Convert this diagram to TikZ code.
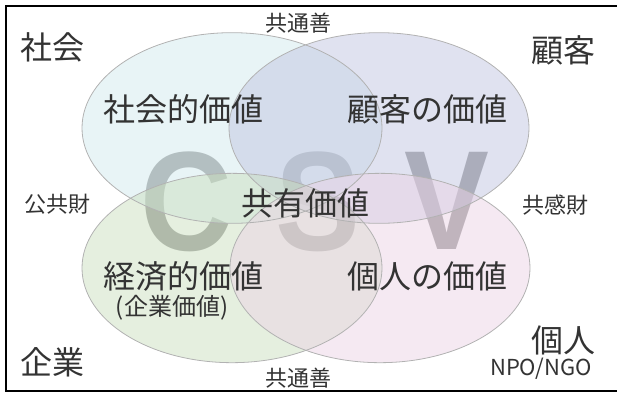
\documentclass[tikz,border=0pt]{standalone}
\usepackage{fontspec}
\setmainfont{Noto Sans CJK JP}
\newfontfamily\csvfont{Liberation Sans}[FakeStretch=0.9]
\definecolor{tlc}{RGB}{209,233,237}
\definecolor{trc}{RGB}{193,197,225}
\definecolor{blc}{RGB}{203,223,191}
\definecolor{brc}{RGB}{235,211,229}
\definecolor{letterc}{RGB}{149,149,149}
\definecolor{edgec}{RGB}{178,178,178}
\definecolor{textc}{RGB}{51,51,51}
\tikzset{
  venn/.style={fill opacity=0.5, draw=none},
  vennedge/.style={draw=edgec, line width=0.6pt},
  bigletter/.style={text=letterc, inner sep=0, anchor=base, font=\csvfont\bfseries\fontsize{106}{106}\selectfont},
  biglabel/.style={text=textc, inner sep=0, font=\fontsize{24}{26}\selectfont},
  smalllabel/.style={text=textc, inner sep=0, font=\fontsize{16.5}{18}\selectfont},
}
\begin{document}
\begin{tikzpicture}[x=0.75pt,y=-0.75pt]
\useasboundingbox (0,0) rectangle (617,394);
% CSV letters
\node[bigletter] (lc) at (186,250) {C};
\node[bigletter] (ls) at (318,250) {S};
\node[bigletter] (lv) at (447,249) {V};
% ellipses
\fill[tlc, venn] (232,128) ellipse [x radius=112.5pt, y radius=71.5pt];
\fill[trc, venn] (379,128) ellipse [x radius=112.5pt, y radius=71.5pt];
\fill[blc, venn] (232,268) ellipse [x radius=112.5pt, y radius=71pt];
\fill[brc, venn] (380,268) ellipse [x radius=112.5pt, y radius=71pt];
\draw[vennedge] (232,128) ellipse [x radius=112.5pt, y radius=71.5pt];
\draw[vennedge] (379,128) ellipse [x radius=112.5pt, y radius=71.5pt];
\draw[vennedge] (232,268) ellipse [x radius=112.5pt, y radius=71pt];
\draw[vennedge] (380,268) ellipse [x radius=112.5pt, y radius=71pt];
% frame (right side cropped)
\draw[line width=1.5pt] (620,6) -- (6,6) -- (6,391) -- (620,391);
% corner labels
\node[biglabel] (shakai) at (53,47) {社会};
\node[biglabel] (kokyaku) at (563,50) {顧客};
\node[biglabel] (kigyo) at (52,362) {企業};
\node[biglabel] (kojin) at (563,340) {個人};
\node[smalllabel] (npo) at (541,369) {NPO/NGO};
% small labels
\node[smalllabel] (kyotsu1) at (298,23) {共通善};
\node[smalllabel] (kyotsu2) at (298,378) {共通善};
\node[smalllabel] (kokyo) at (57,204) {公共財};
\node[smalllabel] (kyokan) at (555,205) {共感財};
% value labels
\node[biglabel] (v1) at (183,109) {社会的価値};
\node[biglabel] (v2) at (427,109) {顧客の価値};
\node[biglabel] (v0) at (305,203) {共有価値};
\node[biglabel] (v3) at (183,276) {経済的価値};
\node[text=textc, inner sep=0, font=\fontsize{18}{20}\selectfont] (v3b) at (172,308) {(企業価値)};
\node[biglabel] (v4) at (427,276) {個人の価値};
\end{tikzpicture}
\end{document}
